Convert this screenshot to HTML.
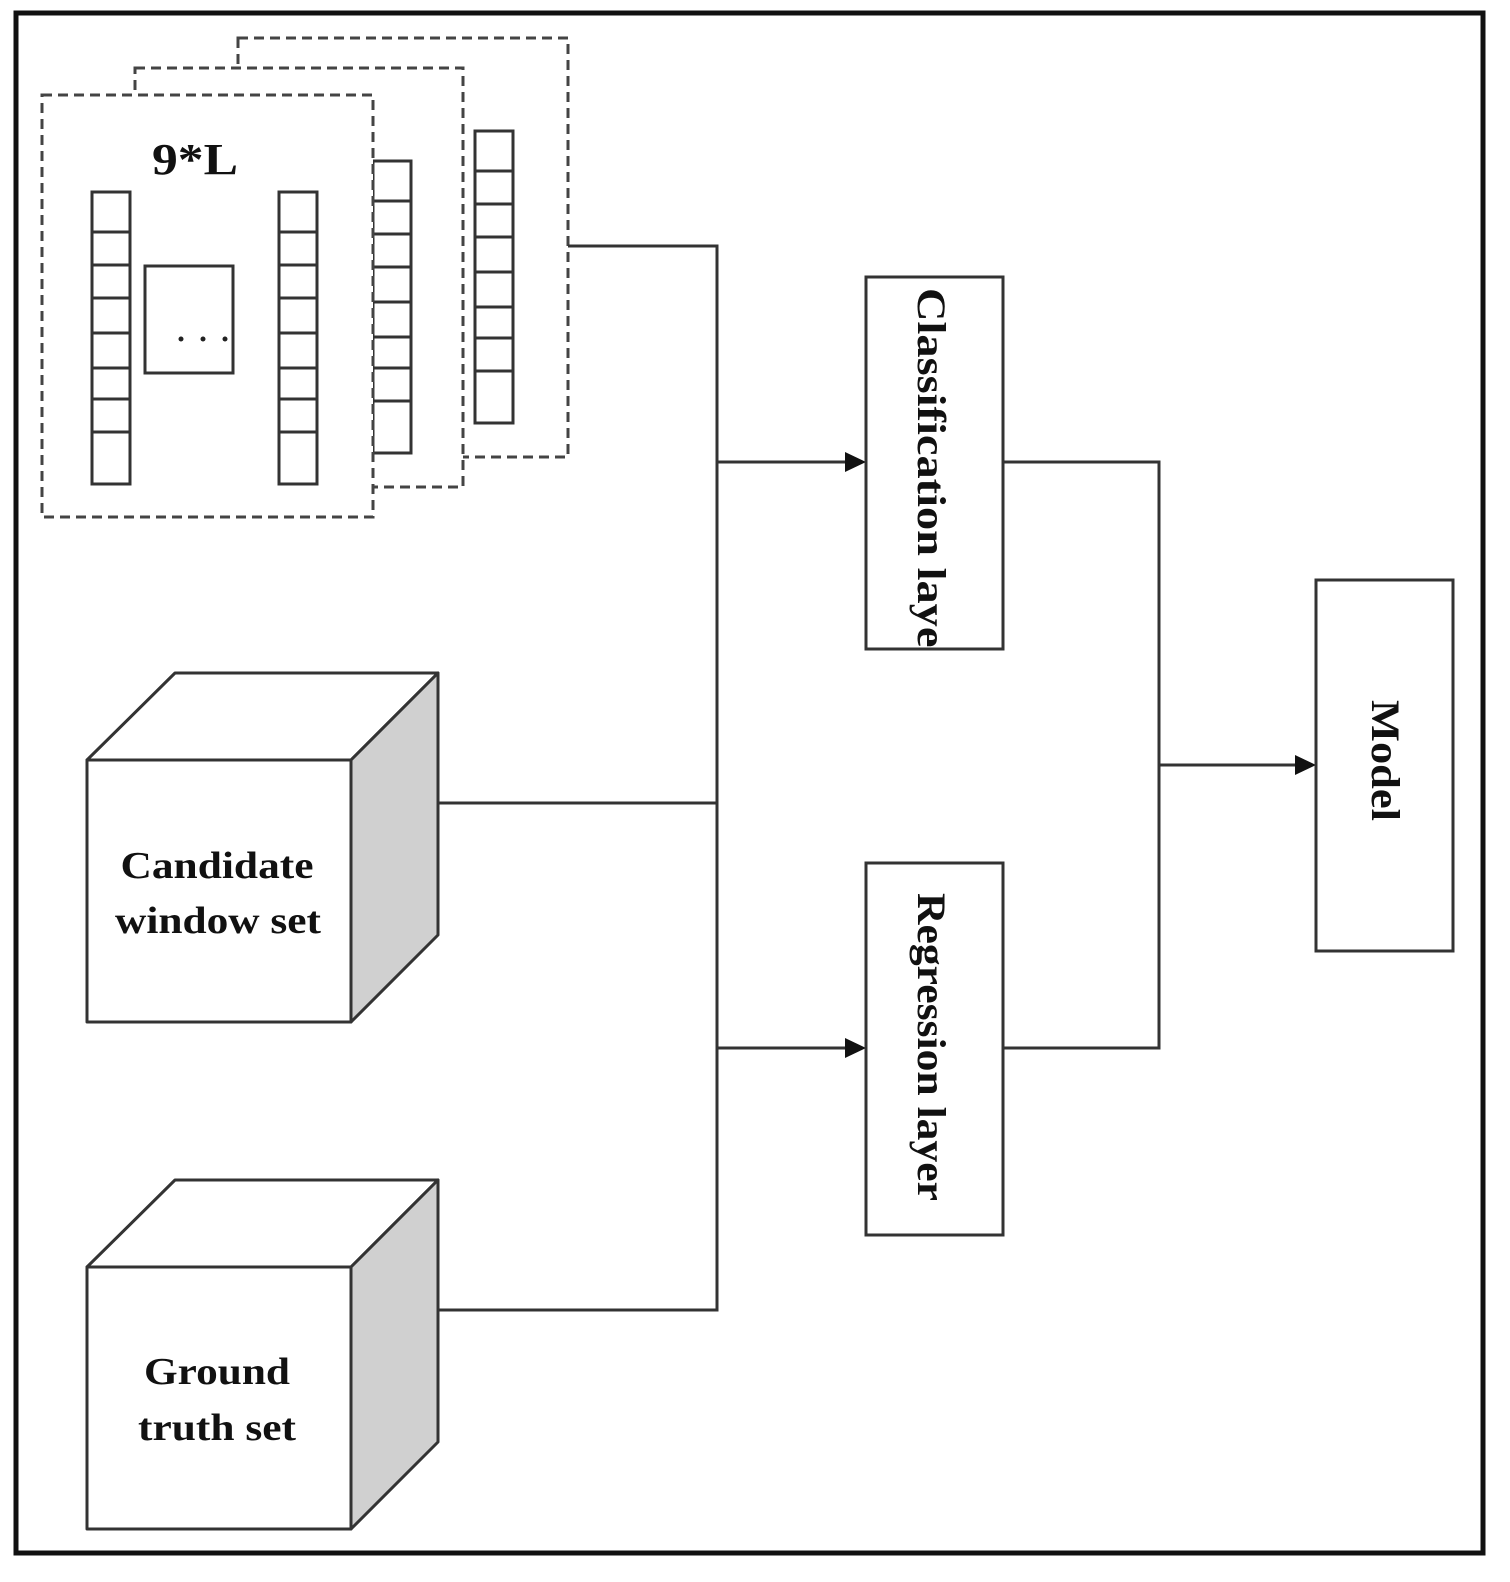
<!DOCTYPE html>
<html><head><meta charset="utf-8"><style>
html,body{margin:0;padding:0;background:#fff;}
svg{display:block;}
text{font-family:"Liberation Serif",serif;font-weight:bold;fill:#111;}
</style></head><body>
<svg width="1510" height="1582" viewBox="0 0 1510 1582" xmlns="http://www.w3.org/2000/svg">
<rect x="0" y="0" width="1510" height="1582" fill="#fff"/>
<rect x="16" y="13" width="1467" height="1540" fill="none" stroke="#111" stroke-width="5"/>
<defs>
<g id="col9" stroke="#333" stroke-width="3" fill="#fff">
<rect x="0" y="0" width="38" height="292"/>
<line x1="0" y1="40" x2="38" y2="40"/><line x1="0" y1="73" x2="38" y2="73"/>
<line x1="0" y1="106" x2="38" y2="106"/><line x1="0" y1="141" x2="38" y2="141"/>
<line x1="0" y1="176" x2="38" y2="176"/><line x1="0" y1="207" x2="38" y2="207"/>
<line x1="0" y1="240" x2="38" y2="240"/>
</g>
</defs>
<g stroke="#444" stroke-width="3" stroke-dasharray="10,6" fill="#fff">
<rect x="238" y="38" width="330" height="419"/>
<rect x="135" y="68" width="328" height="419"/>
</g>
<use href="#col9" x="475" y="131"/>
<use href="#col9" x="373" y="161"/>
<rect x="42" y="95" width="331" height="422" fill="#fff" stroke="#444" stroke-width="3" stroke-dasharray="10,6"/>
<use href="#col9" x="92" y="192"/>
<use href="#col9" x="279" y="192"/>
<rect x="145" y="266" width="88" height="107" fill="#fff" stroke="#333" stroke-width="3"/>
<circle cx="181" cy="339" r="2.5" fill="#222"/><circle cx="203" cy="339" r="2.5" fill="#222"/><circle cx="225" cy="339" r="2.5" fill="#222"/>
<text x="195" y="174" font-size="44" text-anchor="middle" textLength="86" lengthAdjust="spacingAndGlyphs">9*L</text>
<g stroke="#333" stroke-width="3" fill="none">
<polyline points="568,246 717,246 717,1310 438,1310"/>
<line x1="438" y1="803" x2="717" y2="803"/>
<line x1="717" y1="462" x2="848" y2="462"/>
<line x1="717" y1="1048" x2="848" y2="1048"/>
<polyline points="1003,462 1159,462 1159,1048 1003,1048"/>
<line x1="1159" y1="765" x2="1298" y2="765"/>
</g>
<g fill="#111">
<polygon points="866,462 845,452 845,472"/>
<polygon points="866,1048 845,1038 845,1058"/>
<polygon points="1316,765 1295,755 1295,775"/>
</g>
<g stroke="#333" stroke-width="3">
<rect x="866" y="277" width="137" height="372" fill="#fff"/>
<rect x="866" y="863" width="137" height="372" fill="#fff"/>
<rect x="1316" y="580" width="137" height="371" fill="#fff"/>
</g>
<clipPath id="c1"><rect x="868" y="279" width="133" height="368"/></clipPath>
<g clip-path="url(#c1)"><text font-size="40" transform="translate(918,288) rotate(90)" textLength="380" lengthAdjust="spacingAndGlyphs">Classification layer</text></g>
<text font-size="40" transform="translate(918,893) rotate(90)" textLength="308" lengthAdjust="spacingAndGlyphs">Regression layer</text>
<text font-size="40" transform="translate(1372,700) rotate(90)" textLength="121" lengthAdjust="spacingAndGlyphs">Model</text>
<g stroke="#333" stroke-width="3" stroke-linejoin="round">
<polygon points="87,760 175,673 438,673 351,760" fill="#fff"/>
<polygon points="351,760 438,673 438,935 351,1022" fill="#d0d0d0"/>
<rect x="87" y="760" width="264" height="262" fill="#fff"/>
<polygon points="87,1267 175,1180 438,1180 351,1267" fill="#fff"/>
<polygon points="351,1267 438,1180 438,1442 351,1529" fill="#d0d0d0"/>
<rect x="87" y="1267" width="264" height="262" fill="#fff"/>
</g>
<text x="217" y="878" font-size="38" text-anchor="middle" textLength="193" lengthAdjust="spacingAndGlyphs">Candidate</text>
<text x="218" y="933" font-size="38" text-anchor="middle" textLength="206" lengthAdjust="spacingAndGlyphs">window set</text>
<text x="217" y="1384" font-size="38" text-anchor="middle" textLength="146" lengthAdjust="spacingAndGlyphs">Ground</text>
<text x="217" y="1440" font-size="38" text-anchor="middle" textLength="158" lengthAdjust="spacingAndGlyphs">truth set</text>
</svg>
</body></html>
